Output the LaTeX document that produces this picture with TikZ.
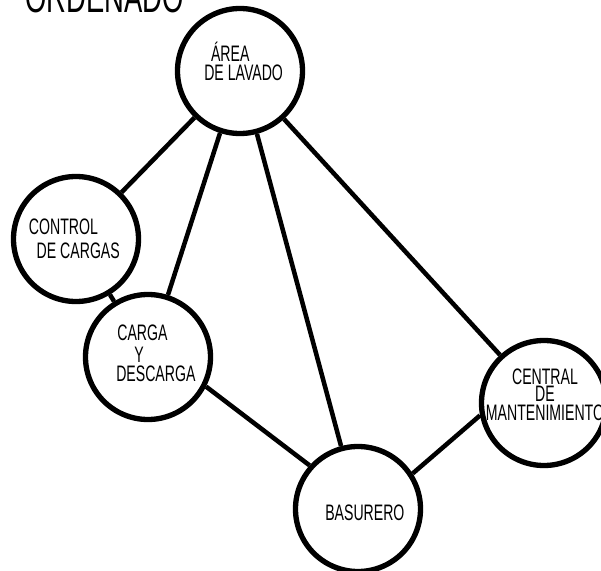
\documentclass[tikz,border=0pt]{standalone}
\usepackage{fontspec}
\setmainfont{Liberation Sans}[FakeStretch=0.63]
\usetikzlibrary{positioning}

\begin{document}
\begin{tikzpicture}[x=0.75pt, y=-0.75pt,
    zone/.style={draw, circle, line width=4pt, minimum size=93.75pt, inner sep=0pt},
    lbl/.style={inner sep=0pt, anchor=south west, align=left, font=\fontsize{16.8}{14.25}\selectfont},
    link/.style={line width=3.4pt}
]
\useasboundingbox (0,0) rectangle (601,571);
\clip (0,0) rectangle (601,571);

\node[anchor=base west, inner sep=0pt, font=\fontsize{32.6}{33}\selectfont] (titulo) at (25,12.7) {ORDENADO};

\node[zone] (lavado) at (240,71) {};
\node[zone] (control) at (76,239) {};
\node[zone] (carga) at (148,357) {};
\node[zone] (central) at (544,403) {};
\node[zone] (basura) at (358,509) {};

\node[lbl] (lavadoTxt) at (204,81) {\hspace{5.1pt}ÁREA\\DE LAVADO};
\node[lbl] (controlTxt) at (28.7,258.6) {CONTROL\\[3.5pt]\hspace{5.8pt}DE CARGAS};
\node[lbl] (cargaTxt) at (116,382) {\hspace{0.8pt}CARGA\\[2pt]\hspace{13.5pt}Y\\DESCARGA};
\node[lbl, anchor=south, align=center] (centralTxt) at (545,420.6) {CENTRAL\\[-2pt]DE\\MANTENIMIENTO};
\node[lbl] (basuraTxt) at (325,520.7) {BASURERO};

\draw[link] (lavado) -- (control);
\draw[link] (lavado) -- (carga);
\draw[link] (lavado) -- (basura);
\draw[link] (lavado) -- (central);
\draw[link] (control) -- (carga);
\draw[link] (carga.-27) -- (basura.138);
\draw[link] (basura.33) -- (central.191);
\end{tikzpicture}
\end{document}
